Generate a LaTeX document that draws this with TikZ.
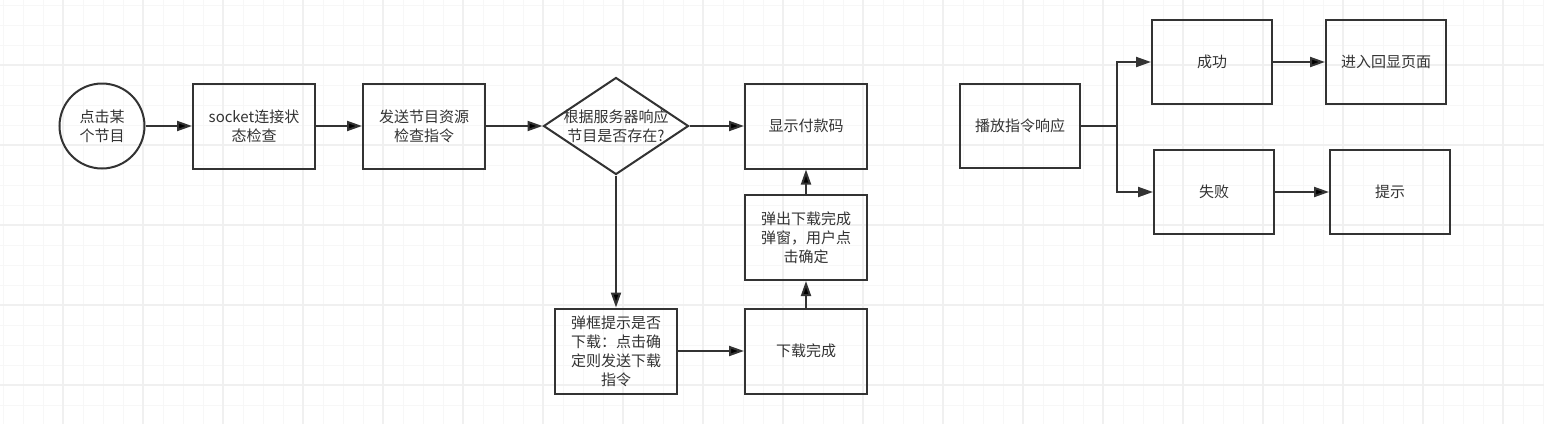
\documentclass[tikz,border=0pt]{standalone}
\usepackage{fontspec}
\setmainfont{Noto Sans CJK SC}
\usepackage{xcolor}
\usetikzlibrary{positioning,arrows.meta,shapes.geometric}

\definecolor{ink}{HTML}{333333}

\begin{document}
\begin{tikzpicture}[x=1pt, y=-1pt, on grid,
    every node/.style={font=\fontsize{15}{19}\selectfont, text=ink, align=center},
    box/.style={draw=ink, line width=2pt, minimum width=122pt, minimum height=85pt, inner sep=0pt},
    rbox/.style={box, minimum width=120pt, minimum height=84pt},
    start/.style={circle, draw=ink, line width=2pt, minimum size=85pt, inner sep=0pt},
    decide/.style={diamond, draw=ink, line width=2pt, minimum width=145pt, minimum height=97pt, inner sep=0pt},
    arr/.style={draw=ink, line width=2pt, -{Triangle[length=15pt, width=10pt]}}]

    \useasboundingbox (0,0) rectangle (1544,424);

    % grid
    \foreach \x in {3,23,...,1543} \draw[gray!6, line width=1pt] (\x,0) -- (\x,424);
    \foreach \y in {5,25,...,423} \draw[gray!6, line width=1pt] (0,\y) -- (1544,\y);
    \foreach \x in {63,143,...,1543} \draw[gray!12, line width=1.4pt] (\x,0) -- (\x,424);
    \foreach \y in {65,145,...,423} \draw[gray!12, line width=1.4pt] (0,\y) -- (1544,\y);

    \node[start] (c0) at (102,126) {点击某\\个节目};
    \node[box] (b1) [right=152pt of c0] {socket连接状\\态检查};
    \node[box] (b2) [right=170pt of b1] {发送节目资源\\检查指令};
    \node[decide, label={center:根据服务器响应\\节目是否存在?}] (d) [right=192pt of b2] {};
    \node[box] (pay) [right=190pt of d] {显示付款码};
    \node[box] (ask) [below=225pt of d] {弹框提示是否\\下载：点击确\\定则发送下载\\指令};
    \node[box] (done) [right=190pt of ask] {下载完成};
    \node[box] (pop) [above=113.5pt of done] {弹出下载完成\\弹窗，用户点\\击确定};

    \path[arr]
        (c0) edge (b1)
        (b1) edge (b2)
        (b2) edge (d)
        (d) edge (pay)
        (d) edge (ask)
        (ask) edge (done)
        (done) edge (pop)
        (pop) edge (pay);

    \node[rbox] (play) at (1020,126) {播放指令响应};
    \node[rbox] (ok) at (1212,62) {成功};
    \node[rbox] (page) [right=174pt of ok] {进入回显页面};
    \node[rbox] (fail) at (1214,192) {失败};
    \node[rbox] (tip) [right=176pt of fail] {提示};

    \coordinate (split) at ([xshift=36pt]play.east);
    \draw[arr] (play.east) -- (split) |- (ok.west);
    \draw[arr] (play.east) -- (split) |- (fail.west);
    \path[arr]
        (ok) edge (page)
        (fail) edge (tip);

\end{tikzpicture}
\end{document}
